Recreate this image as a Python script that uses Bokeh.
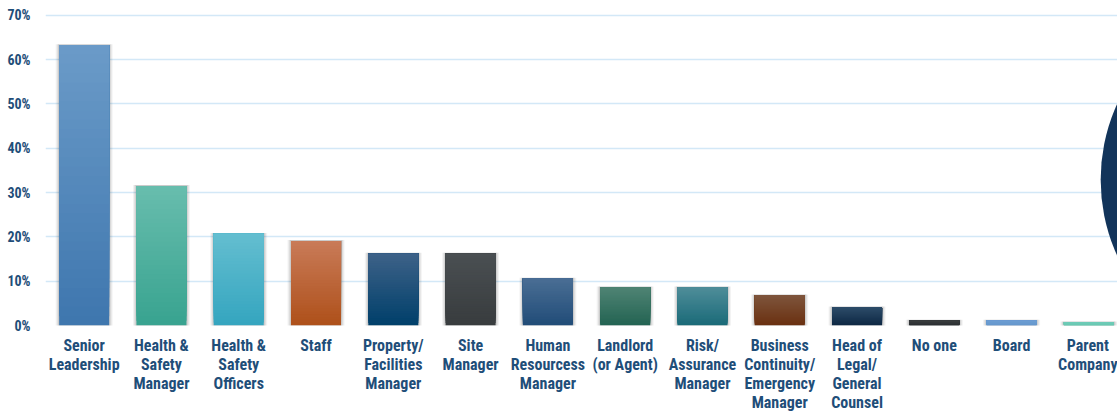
from bokeh.plotting import figure
from bokeh.models import Range1d, FixedTicker, PrintfTickFormatter
from bokeh.embed import file_html
from bokeh.resources import INLINE

categories = ["Senior\nLeadership", "Health &\nSafety\nManager", "Health &\nSafety\nOfficers", "Staff",
              "Property/\nFacilities\nManager", "Site\nManager", "Human\nResourcess\nManager",
              "Landlord\n(or Agent)", "Risk/\nAssurance\nManager", "Business\nContinuity/\nEmergency\nManager",
              "Head of\nLegal/\nGeneral\nCounsel", "No one", "Board", "Parent\nCompany"]
values = [63.3, 31.5, 20.7, 19.1, 16.2, 16.2, 10.6, 8.6, 8.6, 6.8, 4.1, 1.1, 1.1, 0.7]
top_colors = ["#6b9bc8", "#68bdad", "#64bed0", "#c97b58", "#3d6288", "#4a4f52", "#4a6e94",
              "#4f8474", "#4f8d99", "#7e553c", "#2d4c69", "#3a3e41", "#6d9dd2", "#70ccb8"]
bottom_colors = ["#3e76ae", "#38a390", "#34a5bf", "#ae501a", "#003f6a", "#383c3e", "#214c78",
                 "#236352", "#1a6a78", "#6a3010", "#0d2843", "#2a2e31", "#6597cc", "#68c6b0"]
y_ticks = [0, 10, 20, 30, 40, 50, 60, 70]

LABEL = "#1f4e79"
FONT = "Roboto Condensed"

p = figure(width=1117, height=414, output_backend="svg", toolbar_location=None,
           x_range=Range1d(-0.5, 13.37), y_range=Range1d(0, 72),
           min_border_left=45, min_border_right=0, min_border_top=6, min_border_bottom=80)
p.outline_line_color = None
p.background_fill_color = "white"
p.border_fill_color = "white"

def hex2rgb(h):
    h = h.lstrip("#")
    return tuple(int(h[i:i + 2], 16) for i in (0, 2, 4))

def mix(c1, c2, t):
    a, b = hex2rgb(c1), hex2rgb(c2)
    return "#%02x%02x%02x" % tuple(round(a[i] + (b[i] - a[i]) * t) for i in range(3))

xs = list(range(len(values)))
bw = 0.647

# soft shadow
for k, alpha in [(0.045, 0.05), (0.03, 0.07), (0.015, 0.09)]:
    p.quad(left=[x - bw / 2 - k for x in xs], right=[x + bw / 2 + k for x in xs],
           top=[v + 0.2 for v in values], bottom=[-0.7] * len(xs),
           fill_color="#000000", fill_alpha=alpha, line_color=None)

# gradient bars: each slice runs from its bottom up to the bar top, drawn bottom-up
N = 30
L, R, T, B, C = [], [], [], [], []
for x, v, tc, bc in zip(xs, values, top_colors, bottom_colors):
    for k in range(N):
        L.append(x - bw / 2)
        R.append(x + bw / 2)
        B.append(v * k / N)
        T.append(v)
        C.append(mix(bc, tc, (k + 0.5) / N))
p.quad(left=L, right=R, top=T, bottom=B, fill_color=C, line_color=None)

# decorative circle on the right edge
p.scatter(x=[15.52], y=[32.9], size=366, marker="circle", fill_color="#12345a", line_color=None)

p.xaxis.ticker = FixedTicker(ticks=xs)
p.xaxis.major_label_overrides = {i: c for i, c in enumerate(categories)}
p.xaxis.axis_line_color = None
p.xaxis.major_tick_line_color = None
p.xaxis.minor_tick_line_color = None
p.xaxis.major_label_text_font = FONT
p.xaxis.major_label_text_font_style = "bold"
p.xaxis.major_label_text_font_size = "16px"
p.xaxis.major_label_text_color = LABEL
p.xaxis.major_label_standoff = 4
p.xaxis.major_label_text_line_height = 1.0

p.yaxis.ticker = FixedTicker(ticks=y_ticks)
p.yaxis.formatter = PrintfTickFormatter(format="%d%%")
p.yaxis.axis_line_color = None
p.yaxis.major_tick_line_color = None
p.yaxis.minor_tick_line_color = None
p.yaxis.major_label_text_font = FONT
p.yaxis.major_label_text_font_style = "bold"
p.yaxis.major_label_text_font_size = "14px"
p.yaxis.major_label_text_color = LABEL
p.yaxis.major_label_standoff = 9

p.xgrid.grid_line_color = None
p.ygrid.ticker = FixedTicker(ticks=y_ticks)
p.ygrid.grid_line_color = "#d3e8f7"
p.ygrid.grid_line_width = 1.5

open("out.html", "w").write(file_html(p, INLINE))
